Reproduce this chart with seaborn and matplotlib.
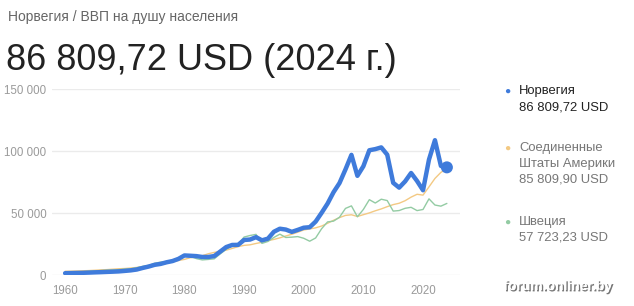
import numpy as np
import pandas as pd
import matplotlib
matplotlib.use("Agg")
import matplotlib.pyplot as plt
import matplotlib.patheffects as pe
import seaborn as sns

years = list(range(1960, 2025))
norway = [1442, 1560, 1667, 1775, 1936, 2133, 2308, 2510, 2685, 2903,
          3306, 3736, 4413, 5689, 6811, 8204, 8937, 10244, 11237, 13010,
          15772, 15513, 15224, 14532, 14537, 15264, 18886, 22523, 24222, 24307,
          28243, 28596, 30523, 27959, 29320, 34876, 37322, 36630, 34788, 36372,
          38131, 38543, 43084, 50135, 57604, 66775, 74148, 85140, 96880, 79977,
          87693, 100600, 101524, 102913, 97019, 74356, 70460, 75497, 82268, 75826,
          68340, 93073, 108729, 87962, 86810]
usa = [3007, 3067, 3244, 3375, 3574, 3828, 4146, 4336, 4696, 5032,
       5234, 5609, 6094, 6726, 7226, 7801, 8592, 9453, 10565, 11674,
       12575, 13976, 14434, 15544, 17121, 18237, 19071, 20039, 21417, 22857,
       23889, 24342, 25419, 26387, 27695, 28691, 29968, 31459, 32854, 34515,
       36330, 37134, 38023, 39496, 41713, 44115, 46299, 48050, 48570, 47195,
       48651, 50066, 51784, 53291, 55124, 56763, 57867, 59915, 62805, 65095,
       64412, 71056, 77861, 82769, 85810]
sweden = [2114, 2275, 2473, 2699, 2995, 3266, 3552, 3823, 4006, 4336,
          4756, 5105, 5851, 6956, 7719, 9433, 10390, 10837, 11731, 13768,
          16146, 15057, 13232, 12166, 12546, 13051, 17009, 20685, 23479, 24826,
          30594, 31858, 32771, 25495, 27060, 30282, 32946, 30260, 30534, 30970,
          29624, 27247, 29880, 37318, 42822, 43437, 46594, 53700, 55746, 46947,
          52869, 60756, 58038, 61127, 60020, 51545, 51966, 53791, 54589, 51939,
          52838, 61418, 56424, 55517, 57723]

series_names = ["Норвегия", "Соединенные\nШтаты Америки", "Швеция"]
series_values = ["86 809,72 USD", "85 809,90 USD", "57 723,23 USD"]
colors = ["#3f7bdb", "#f3c983", "#93cba3"]
title_small = "Норвегия / ВВП на душу населения"
title_big = "86 809,72 USD (2024 г.)"
yticks = [0, 50000, 100000, 150000]
ytick_labels = ["0", "50 000", "100 000", "150 000"]
xticks = [1960, 1970, 1980, 1990, 2000, 2010, 2020]

sns.set_style("white")
plt.rcParams["font.family"] = ["Liberation Sans", "DejaVu Sans"]

fig = plt.figure(figsize=(6.34, 3.06), dpi=100)
ax = fig.add_axes([52/634, 31/306, (460-52)/634, (275-89)/306])

df_us = pd.DataFrame({"year": years, "v": usa})
df_se = pd.DataFrame({"year": years, "v": sweden})
df_no = pd.DataFrame({"year": years, "v": norway})
sns.lineplot(data=df_us, x="year", y="v", color=colors[1], linewidth=1.0, ax=ax, zorder=3)
sns.lineplot(data=df_se, x="year", y="v", color=colors[2], linewidth=1.0, ax=ax, zorder=3)
sns.lineplot(data=df_no, x="year", y="v", color=colors[0], linewidth=3.2, ax=ax, zorder=4,
             solid_capstyle="round", solid_joinstyle="round")
sns.scatterplot(x=[years[-1]], y=[norway[-1]], color=colors[0], s=75, edgecolor="none", ax=ax, zorder=5)

ax.set_xlim(1957.8, 2026.2)
ax.set_ylim(0, 150000)
ax.set_yticks(yticks)
ax.set_yticklabels(ytick_labels)
ax.set_xticks(xticks)
ax.set_xlabel("")
ax.set_ylabel("")
for s in ax.spines.values():
    s.set_visible(False)
ax.grid(axis="y", color="#ebebeb", linewidth=1.0, zorder=0)
ax.tick_params(axis="y", length=0, pad=4, labelsize=8.3, labelcolor="#9a9a9a")
ax.tick_params(axis="x", length=4, width=0.8, color="#e6e6e6", pad=3, labelsize=8.3, labelcolor="#9a9a9a")

fig.text(8/634, 1 - 17/306, title_small, fontsize=10, color="#666666", va="center", ha="left")
fig.text(6/634, 1 - 60/306, title_big, fontsize=26, color="#222222", va="center", ha="left")

# legend
leg_y = [91, 148, 222]
for i, (nm, val) in enumerate(zip(series_names, series_values)):
    y0 = leg_y[i]
    fig.text(507/634, 1 - y0/306, "\u25CF", color=colors[i], fontsize=7.5, va="center", ha="center")
    lines = nm.split("\n") + [val]
    col = "#222222" if i == 0 else "#777777"
    for j, t in enumerate(lines):
        fig.text(519/634, 1 - (y0 + 16*j)/306, t, color=col, fontsize=9.4, va="center", ha="left")

fig.text(558/634, 1 - 286/306, "forum.onliner.by", color="white", fontsize=10, fontweight="bold",
         ha="center", va="center",
         path_effects=[pe.withSimplePatchShadow(offset=(1, -1), shadow_rgbFace="#555555", alpha=0.8)])

fig.savefig("out.png", dpi=100, facecolor="white")
